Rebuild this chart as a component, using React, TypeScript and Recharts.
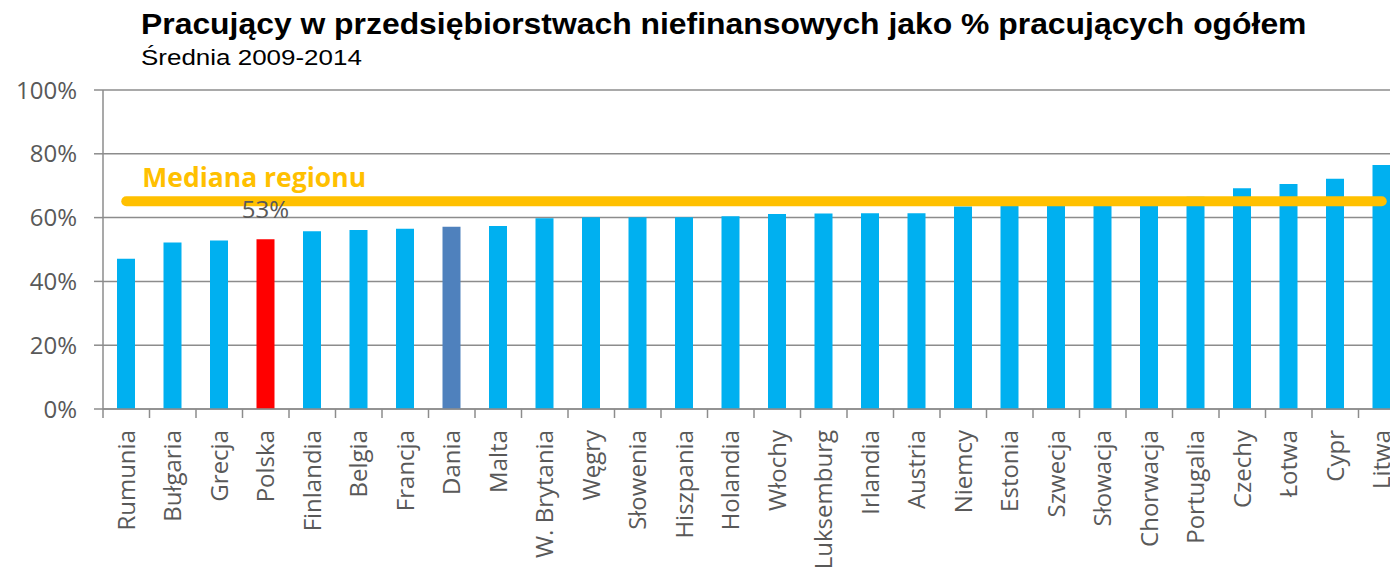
import { BarChart, Bar, XAxis, YAxis, CartesianGrid, ReferenceLine, Cell, LabelList } from 'recharts'

const countries = [
  'Rumunia', 'Bułgaria', 'Grecja', 'Polska', 'Finlandia', 'Belgia', 'Francja', 'Dania', 'Malta',
  'W. Brytania', 'Węgry', 'Słowenia', 'Hiszpania', 'Holandia', 'Włochy', 'Luksemburg', 'Irlandia',
  'Austria', 'Niemcy', 'Estonia', 'Szwecja', 'Słowacja', 'Chorwacja', 'Portugalia', 'Czechy',
  'Łotwa', 'Cypr', 'Litwa',
]
const shares = [
  47.1, 52.2, 52.8, 53.2, 55.7, 56.1, 56.5, 57.1, 57.4,
  59.8, 60.1, 60.1, 60.1, 60.4, 61.1, 61.3, 61.4,
  61.4, 63.5, 63.7, 64.0, 64.5, 65.0, 66.5, 69.2,
  70.5, 72.2, 76.5,
]
const yTicks = [0, 20, 40, 60, 80, 100]
const medianValue = 65.1
const medianLabel = 'Mediana regionu'
const labelled = 'Polska'
const barColors: Record<string, string> = { Polska: '#FF0000', Dania: '#4F81BD' }

const data = countries.map((name, i) => ({
  name,
  value: shares[i],
  label: name === labelled ? `${Math.round(shares[i])}%` : '',
}))

const GRID = '#8c8c8c'
const TEXT = '#595959'
const SANS = '"Open Sans", sans-serif'
const ARIAL = '"Liberation Sans", Arial, sans-serif'

function CountryTick(props: any) {
  const { x, y, payload, index, visibleTicksCount } = props
  const off = payload.offset ?? 0
  const ty = y + 12
  return (
    <g>
      <line x1={x - off} x2={x - off} y1={y - 9} y2={y} stroke={GRID} strokeWidth={1.5} />
      {index === visibleTicksCount - 1 && (
        <line x1={x + off} x2={x + off} y1={y - 9} y2={y} stroke={GRID} strokeWidth={1.5} />
      )}
      <text
        x={x}
        y={ty}
        transform={`rotate(-90 ${x} ${ty})`}
        textAnchor="end"
        dy="0.35em"
        fill={TEXT}
        fontSize={24}
        fontFamily={SANS}
      >
        {payload.value}
      </text>
    </g>
  )
}

function MedianLabel(props: any) {
  const vb = props.viewBox || {}
  return (
    <text x={(vb.x ?? 0) + 16} y={(vb.y ?? 0) - 14} fill="#FFC000" fontSize={26.5} fontWeight={700} fontFamily={SANS}>
      {medianLabel}
    </text>
  )
}

export default function App() {
  return (
    <div style={{ position: 'fixed', left: 0, top: 0, width: 1390, height: 574, overflow: 'hidden', background: '#fff' }}>
      <div style={{ position: 'absolute', left: 141, top: 6.7, fontFamily: ARIAL, fontWeight: 700, fontSize: 29, color: '#000', whiteSpace: 'nowrap', lineHeight: '34px', transform: 'scaleX(1.099)', transformOrigin: 'left center' }}>
        Pracujący w przedsiębiorstwach niefinansowych jako % pracujących ogółem
      </div>
      <div style={{ position: 'absolute', left: 141, top: 45.4, fontFamily: ARIAL, fontSize: 22, color: '#000', whiteSpace: 'nowrap', lineHeight: '26px', transform: 'scaleX(1.18)', transformOrigin: 'left center' }}>
        Średnia 2009-2014
      </div>
      <div style={{ position: 'absolute', left: 0, top: 0 }}>
        <BarChart width={1406} height={574} data={data} margin={{ top: 90, right: 1, bottom: 5, left: 8 }} barCategoryGap={0}>
          <CartesianGrid vertical={false} stroke={GRID} strokeWidth={1.5} />
          <XAxis
            dataKey="name"
            interval={0}
            height={160}
            tickLine={false}
            tickSize={9}
            tickMargin={0}
            stroke={GRID}
            strokeWidth={1.5}
            tick={<CountryTick />}
          />
          <YAxis
            domain={[0, 100]}
            ticks={yTicks}
            width={95}
            tickSize={9}
            tickMargin={17}
            stroke={GRID}
            strokeWidth={1.5}
            tickFormatter={(v: number) => `${v}%`}
            tick={{ fill: TEXT, fontSize: 24, fontFamily: SANS }}
          />
          <Bar dataKey="value" barSize={18} isAnimationActive={false}>
            {data.map((d) => (
              <Cell key={d.name} fill={barColors[d.name] ?? '#00B0F0'} />
            ))}
            <LabelList dataKey="label" position="top" offset={21} fill={TEXT} fontSize={24} fontFamily={SANS} />
          </Bar>
          <ReferenceLine
            segment={[
              { x: countries[0], y: medianValue },
              { x: countries[countries.length - 1], y: medianValue },
            ]}
            stroke="#FFC000"
            strokeWidth={10}
            strokeLinecap="round"
            label={<MedianLabel />}
          />
        </BarChart>
      </div>
    </div>
  )
}
